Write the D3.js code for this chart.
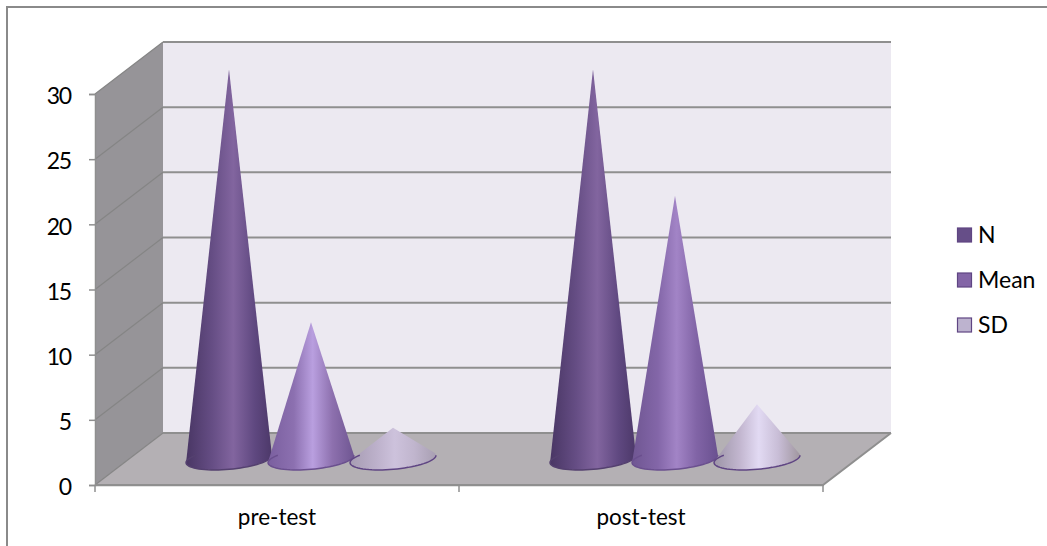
<!DOCTYPE html>
<html>
<head>
<meta charset="utf-8">
<script src="https://cdn.jsdelivr.net/npm/d3@7"></script>
<style>
  body { margin: 0; background: #fff; }
  text { font-family: Lato, "Open Sans", sans-serif; fill: #000; }
</style>
</head>
<body>
<svg></svg>
<script>
let categories = ['pre-test', 'post-test']
let seriesNames = ['N', 'Mean', 'SD']
let nValues = [29.9, 29.9]
let meanValues = [10.5, 20.2]
let sdValues = [2.4, 4.2]
let yTicks = [0, 5, 10, 15, 20, 25, 30]

let allValues = [nValues, meanValues, sdValues]

let width = 1047
let height = 546

// front plane of the 3d box, the back wall is the same thing shifted by depth
let left = 95
let right = 823
let bottom = 485
let top30 = 94
let depthX = 68
let depthY = -52

let svg = d3.select('svg').attr('width', width).attr('height', height)

let xScale = d3.scaleBand().domain(categories).range([left, right])
let seriesScale = d3.scaleBand().domain(seriesNames).range([0, 246])
let yScale = d3.scaleLinear().domain([0, 30]).range([bottom, top30])

// short cones catch more light in the original, so one gradient per cone: [series][category]
let gradients = [
  [
    [[0, '#493664'], [0.3, '#654d84'], [0.55, '#82659f'], [0.8, '#5f4880'], [1, '#4c3869']],
    [[0, '#493664'], [0.3, '#654d84'], [0.55, '#82659f'], [0.8, '#5f4880'], [1, '#4c3869']]
  ],
  [
    [[0, '#7a5f9f'], [0.3, '#8c70b0'], [0.52, '#b99fdf'], [0.75, '#8d70ae'], [1, '#6f5692']],
    [[0, '#6f5692'], [0.3, '#8366a8'], [0.52, '#a284c6'], [0.75, '#8164a6'], [1, '#6a5190']]
  ],
  [
    [[0, '#a69cb2'], [0.3, '#bcb0ca'], [0.52, '#cdc2dc'], [0.75, '#c0b5cd'], [1, '#a89fb2']],
    [[0, '#9c94a6'], [0.3, '#c2b6cf'], [0.52, '#e2daf3'], [0.75, '#c8bdd6'], [1, '#a0969f']]
  ]
]
let rimColors = ['#54406f', '#6a4f8e', '#5f4583']
let legendFills = ['#664e88', '#8365a6', '#bdb3cf']

let defs = svg.append('defs')
gradients.forEach((row, s) => {
  row.forEach((stops, c) => {
    let g = defs.append('linearGradient').attr('id', 'cone' + s + '-' + c)
    stops.forEach((st) => {
      g.append('stop').attr('offset', st[0]).attr('stop-color', st[1])
    })
  })
})

let drawFrame = () => {
  // only the left and top edges of the frame show in the picture
  svg.append('path')
    .attr('d', d3.line()([[7, height], [7, 7], [width, 7]]))
    .attr('fill', 'none')
    .attr('stroke', '#8a8a8a')
    .attr('stroke-width', 2)
}

let drawBox = () => {
  // side wall
  svg.append('path')
    .attr('d', d3.line()([[left, yScale(30)], [left + depthX, yScale(30) + depthY], [left + depthX, bottom + depthY], [left, bottom]]))
    .attr('fill', '#969498')
  // back wall
  svg.append('rect')
    .attr('x', left + depthX).attr('y', yScale(30) + depthY)
    .attr('width', right - left).attr('height', bottom - top30)
    .attr('fill', '#ece9f1')
  // floor
  svg.append('path')
    .attr('d', d3.line()([[left, bottom], [left + depthX, bottom + depthY], [right + depthX, bottom + depthY], [right, bottom]]))
    .attr('fill', '#b4b0b4')

  // gridlines: thin on the side wall, heavier on the back wall
  yTicks.forEach((t) => {
    svg.append('path')
      .attr('d', d3.line()([[left, yScale(t)], [left + depthX, yScale(t) + depthY]]))
      .attr('fill', 'none')
      .attr('stroke', '#858585')
      .attr('stroke-width', 1.2)
    svg.append('path')
      .attr('d', d3.line()([[left + depthX, yScale(t) + depthY], [right + depthX, yScale(t) + depthY]]))
      .attr('fill', 'none')
      .attr('stroke', '#8f8f8f')
      .attr('stroke-width', 2)
  })
  svg.append('path')
    .attr('d', d3.line()([[left, bottom], [right, bottom], [right + depthX, bottom + depthY]]))
    .attr('fill', 'none')
    .attr('stroke', '#8f8f8f')
    .attr('stroke-width', 2)
}

let drawAxis = () => {
  let yAxis = d3.axisLeft(yScale).tickValues(yTicks).tickSize(6).tickPadding(18)
  let y = svg.append('g')
    .attr('transform', 'translate(' + left + ', 0)')
    .call(yAxis)
  y.selectAll('.tick text')
    .attr('dy', '0.42em')
    .style('font-size', '23px')
    .style('letter-spacing', '-1.2px')
    .attr('fill', '#000')

  let xAxis = d3.axisBottom(xScale).tickValues([]).tickSizeOuter(0)
  let x = svg.append('g')
    .attr('transform', 'translate(0, ' + bottom + ')')
    .call(xAxis)
  // category separators sit on the band edges, not the centres
  let edges = categories.map((c) => xScale(c)).concat([right])
  x.selectAll('.sep').data(edges).enter().append('line')
    .attr('class', 'sep')
    .attr('x1', (d) => d).attr('x2', (d) => d)
    .attr('y1', 0).attr('y2', 7)
    .attr('stroke', '#8f8f8f').attr('stroke-width', 1.5)
  x.selectAll('.cat').data(categories).enter().append('text')
    .attr('class', 'cat')
    .attr('x', (d) => xScale(d) + xScale.bandwidth() / 2)
    .attr('y', 40)
    .attr('text-anchor', 'middle')
    .style('font-size', '22.5px')
    .text((d) => d)

  svg.selectAll('.domain').attr('stroke', '#8f8f8f').attr('stroke-width', 1.5)
  svg.selectAll('.tick line').attr('stroke', '#8f8f8f').attr('stroke-width', 1.5)
}

let drawCones = () => {
  let midX = depthX / 2
  let midY = depthY / 2
  let radius = seriesScale.bandwidth() / 2 - 0.5
  let flat = 0.42

  categories.forEach((cat, c) => {
    seriesNames.forEach((name, s) => {
      let value = allValues[s][c]
      let cx = xScale(cat) + xScale.bandwidth() / 2 + midX + seriesScale(name) + seriesScale.bandwidth() / 2 - 123
      let cy = yScale(0) + midY
      let tip = [cx, yScale(value) + midY]

      // base circle lying on the skewed floor
      let rimPoint = (deg) => {
        let a = deg * Math.PI / 180
        return [cx + radius * Math.cos(a) + flat * midX * Math.sin(a), cy + flat * midY * Math.sin(a)]
      }
      let base = d3.range(0, 360, 5).map(rimPoint)
      let hull = d3.polygonHull(base.concat([tip]))

      svg.append('path')
        .attr('d', d3.line()(hull) + 'Z')
        .attr('fill', 'url(#cone' + s + '-' + c + ')')

      // visible front part of the rim
      let front = d3.range(160, 385, 5).map(rimPoint)
      svg.append('path')
        .attr('d', d3.line()(front))
        .attr('fill', 'none')
        .attr('stroke', rimColors[s])
        .attr('stroke-width', 1.5)
    })
  })
}

let drawLegend = () => {
  let legendY = d3.scalePoint().domain(seriesNames).range([235, 325])
  seriesNames.forEach((name, i) => {
    svg.append('rect')
      .attr('x', 957.5).attr('y', legendY(name) - 7)
      .attr('width', 14).attr('height', 14)
      .attr('fill', legendFills[i])
      .attr('stroke', '#5f4583')
      .attr('stroke-width', 1.2)
    svg.append('text')
      .attr('x', 978).attr('y', legendY(name) + 7.5)
      .style('font-size', '23px')
      .text(name)
  })
}

drawFrame()
drawBox()
drawAxis()
drawCones()
drawLegend()
</script>
</body>
</html>
